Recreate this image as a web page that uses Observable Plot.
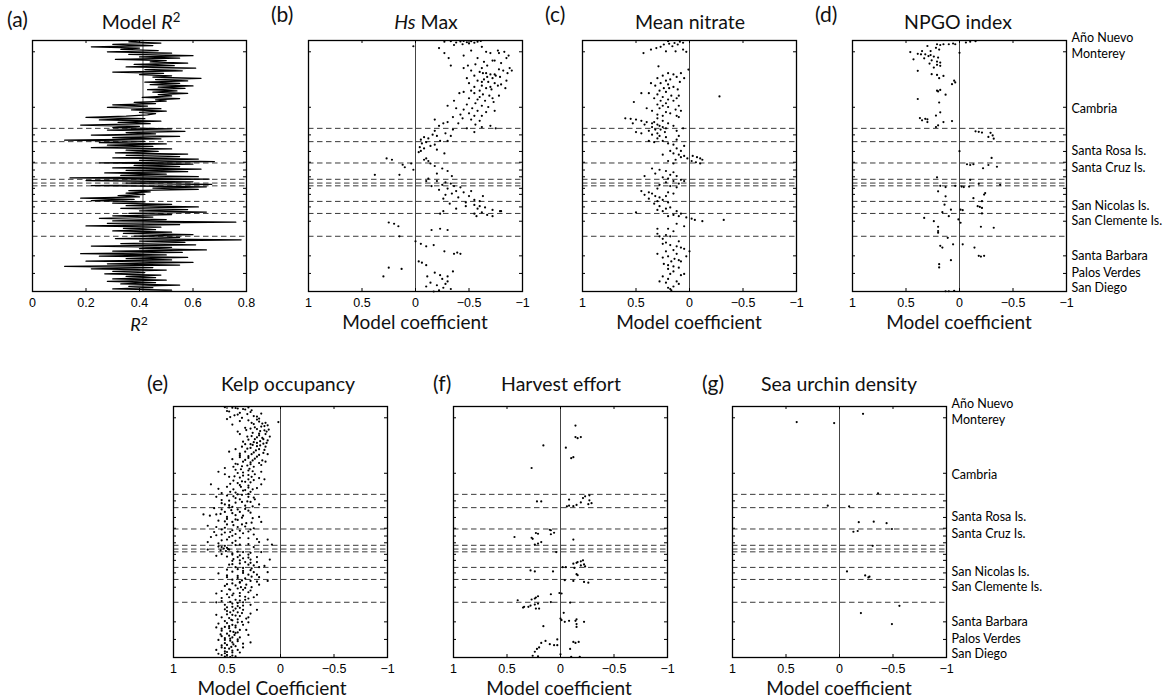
<!DOCTYPE html>
<html>
<head>
<meta charset="utf-8">
<script src="https://cdn.jsdelivr.net/npm/d3@7"></script>
<script src="https://cdn.jsdelivr.net/npm/@observablehq/plot@0.6"></script>
<style>
  body { margin: 0; background: #fff; }
  #fig { position: relative; width: 1171px; height: 700px; overflow: hidden; background: #fff; }
  #fig > svg { position: absolute; overflow: visible; }
  .lbl { font-family: Lato, "Open Sans", sans-serif; fill: #111; }
</style>
</head>
<body>
<div id="fig"></div>
<script>
// Sites ordered along the coast, north (0) to south (100)
const siteNames = ["Año Nuevo", "Monterey", "Cambria", "Santa Rosa Is.", "Santa Cruz Is.",
  "San Nicolas Is.", "San Clemente Is.", "Santa Barbara", "Palos Verdes", "San Diego"];
const sitePos = [-1, 5.3, 27.2, 44.1, 50.7, 66, 72, 85.8, 92.8, 98.7];
const siteTicks = [4.5, 26.6, 37.6, 44.2, 48.5, 51.6, 54.3, 58.9, 61.3, 66.3, 72, 85.8, 92.8];
// Region boundaries (dashed)
const dividers = [35, 40.3, 48.8, 55.3, 56.8, 57.9, 64.1, 68.9, 78.0];

const coefTicks = [1, 0.5, 0, -0.5, -1];
const r2Ticks = [0, 0.2, 0.4, 0.6, 0.8];
const meanR2 = 0.413;

// Model R² at each site, north to south
const r2BySite = [
  0.41, 0.36, 0.48, 0.30, 0.45, 0.22, 0.40, 0.33, 0.47, 0.28,
  0.52, 0.36, 0.60, 0.40, 0.55, 0.31, 0.50, 0.44, 0.58, 0.38,
  0.53, 0.35, 0.61, 0.42, 0.56, 0.30, 0.49, 0.40, 0.52, 0.45,
  0.63, 0.46, 0.58, 0.42, 0.55, 0.44, 0.60, 0.47, 0.57, 0.43,
  0.54, 0.45, 0.58, 0.47, 0.52, 0.41, 0.55, 0.46, 0.50, 0.38,
  0.46, 0.30, 0.43, 0.28, 0.48, 0.37, 0.50, 0.40, 0.46, 0.43,
  0.35, 0.20, 0.42, 0.25, 0.48, 0.32, 0.44, 0.18, 0.40, 0.30,
  0.52, 0.28, 0.57, 0.35, 0.46, 0.22, 0.55, 0.30, 0.48, 0.12,
  0.42, 0.25, 0.50, 0.28, 0.45, 0.22, 0.52, 0.35, 0.47, 0.31,
  0.58, 0.35, 0.55, 0.30, 0.62, 0.40, 0.68, 0.25, 0.60, 0.38,
  0.55, 0.30, 0.63, 0.35, 0.58, 0.27, 0.50, 0.33, 0.62, 0.14,
  0.66, 0.20, 0.60, 0.35, 0.67, 0.22, 0.65, 0.45, 0.62, 0.36,
  0.44, 0.35, 0.42, 0.32, 0.40, 0.18, 0.38, 0.22, 0.42, 0.30,
  0.52, 0.35, 0.62, 0.33, 0.58, 0.40, 0.65, 0.36, 0.52, 0.30,
  0.45, 0.25, 0.50, 0.30, 0.76, 0.28, 0.55, 0.20, 0.48, 0.34,
  0.46, 0.30, 0.52, 0.34, 0.60, 0.38, 0.55, 0.31, 0.78, 0.40,
  0.57, 0.33, 0.61, 0.22, 0.52, 0.40, 0.65, 0.30, 0.56, 0.18,
  0.50, 0.25, 0.58, 0.35, 0.52, 0.20, 0.60, 0.28, 0.55, 0.12,
  0.45, 0.22, 0.50, 0.30, 0.42, 0.27, 0.48, 0.35, 0.46, 0.30,
  0.50, 0.28, 0.46, 0.33, 0.55, 0.36, 0.45, 0.30, 0.52, 0.40
];

// Significant site coefficients: [site position, coefficient]
const hsMax = [
  [0.5,-0.27],[0.3,-0.33],[0.8,-0.38],[0.4,-0.42],[0.2,-0.45],[0.7,-0.48],[0.3,-0.52],[0.9,-0.55],[0.5,-0.58],[0.2,-0.61],[1.5,-0.44],[1.2,-0.5],[1.8,-0.36],[2.3,0.02],
  [3,-0.22],[5,-0.27],[7,-0.31],[10,-0.33],[4,-0.52],[6,-0.45],[2.5,-0.62],[4.5,-0.66],[5,-0.7],[4,-0.77],[5,-0.78],[4.5,-0.83],[6,-0.87],[7,-0.85],[8,-0.74],[9,-0.8],[8.5,-0.64],[10,-0.67],[9.5,-0.56],[10,-0.49],[11,-0.88],[12,-0.9],[13,-0.86],[7,-0.58],[8,-0.72],
  [11,-0.45],[12,-0.52],[12.5,-0.6],[13,-0.66],[13.5,-0.7],[14,-0.75],[14.5,-0.79],[15,-0.72],[15.5,-0.64],[16,-0.58],[16.5,-0.68],[17,-0.74],[17.5,-0.8],[18,-0.62],[18.5,-0.55],[19,-0.66],[19.5,-0.71],[20,-0.6],[11.5,-0.78],[12,-0.82],[13,-0.63],[14,-0.55],[15,-0.48],[16,-0.85],[17,-0.5],[18,-0.77],[19,-0.84],[20,-0.52],[14.5,-0.67],[16.5,-0.62],[18.5,-0.7],[11,-0.62],[13.5,-0.74],
  [20.5,-0.45],[21,-0.55],[21.5,-0.63],[22,-0.69],[22.5,-0.6],[23,-0.5],[23.5,-0.58],[24,-0.65],[24.5,-0.73],[25,-0.56],[25.5,-0.48],[26,-0.62],[26.5,-0.68],[27,-0.53],[27.5,-0.45],[28,-0.58],[28.5,-0.66],[29,-0.5],[29.5,-0.42],[30,-0.55],[22,-0.78],[24,-0.36],[26,-0.3],[28,-0.74],[30,-0.62],[21,-0.41],[23,-0.72],[27,-0.38],
  [30.5,-0.35],[31,-0.44],[31.5,-0.52],[32,-0.6],[32.5,-0.3],[33,-0.4],[33.5,-0.56],[34,-0.22],[34.5,-0.62],[35,-0.48],[35.5,-0.35],[36,-0.18],[36.5,-0.55],[34,-0.7],[35,-0.75],[33,-0.26],[31.5,-0.18],
  [37,-0.28],[37.5,-0.16],[38,-0.2],[38.5,-0.08],[39,-0.12],[39.5,-0.05],[40,-0.23],[40.5,-0.1],[41,-0.06],[41.5,-0.18],[42,-0.14],[42.5,-0.04],[43,-0.08],[43.5,-0.2],[44,-0.05],[45,-0.27],[44.5,-0.03],[38,-0.33],[40,-0.3],
  [47,0.27],[47.5,0.22],[49.5,0.12],[50.5,0.1],[49,0.04],[53.5,0.38],[53.5,0.15],[51.5,0.02],
  [47,-0.1],[48,-0.12],[49,-0.14],[47.5,-0.08],[50,-0.18],[51,-0.25],[52,-0.3],[53,-0.2],[54,-0.34],
  [55,-0.12],[56,-0.2],[56.5,-0.28],[57,-0.33],[57.5,-0.25],[58,-0.36],[58.5,-0.42],[59,-0.3],[59.5,-0.22],[60,-0.38],[60.5,-0.45],[61,-0.34],[61.5,-0.28],[62,-0.5],[62.5,-0.4],[63,-0.26],[63.5,-0.55],[64,-0.6],[64.5,-0.47],[65,-0.32],[56,-0.1],[58,-0.15],[60,-0.52],[62,-0.63],
  [65.5,-0.55],[66,-0.6],[66.5,-0.65],[67,-0.58],[67.5,-0.72],[68,-0.8],[68.5,-0.62],[69,-0.55],[69.5,-0.67],[70,-0.57],[66,-0.47],[67,-0.38],[68,-0.26],[69,-0.23],[70,-0.72],[68,-0.79],
  [72.5,0.25],[73,0.2],[74,0.16],[78,0.15],[75.5,-0.15],[75,-0.23],[75.5,-0.3],
  [80,0.0],[81,-0.05],[82,-0.1],[81.5,-0.17],[84,-0.27],[85,-0.36],[85,-0.42],[84.5,-0.39],
  [90.5,0.25],[94,0.3],[91,0.13],[88,-0.03],[88.5,-0.06],[89.5,-0.1],[94,-0.11],[92.5,-0.18],[93.5,-0.23],[94,-0.3],[96.5,-0.14],[97.5,-0.2],[98.5,-0.26],[99,-0.33],[95,-0.25],[96,-0.3],[98,-0.1],[100,-0.17],[99.5,-0.22],[97,-0.28],[92,-0.35]
];

const meanNitrate = [
  [0.5,0.09],[1,0.14],[1.3,0.19],[1.6,0.24],[2.3,0.16],[3,0.31],[3.6,0.36],[4.3,0.22],[5,0.43],[4.3,0.13],[3.6,0.06],[4.5,0.03],[1.6,0.11],[0.9,0.06],[0.3,0.2],[2.5,0.27],
  [11.6,0.01],[10.3,0.29],
  [13,0.2],[13.5,0.15],[14,0.25],[14.5,0.12],[15,0.3],[15.5,0.18],[16,0.22],[16.5,0.09],[17,0.27],[17.5,0.2],[18,0.32],[18.5,0.15],[19,0.24],[19.5,0.11],[20,0.28],[13,0.08],[15,0.05],[17,0.36],[19,0.19],
  [20.5,0.22],[21,0.38],[21.5,0.3],[22,0.17],[22.5,0.25],[23,0.12],[23.5,0.2],[24,0.27],[24.5,0.52],[21,0.45],[22,0.1],[23,0.33],[25,0.22],[24,0.15],[22.3,-0.28],
  [25.5,0.3],[26,0.25],[26.5,0.2],[27,0.28],[27.5,0.13],[28,0.35],[28.5,0.22],[29,0.18],[29.5,0.3],[30,0.12],[26,0.1],[28,0.08],[30,0.25],[27,0.4],
  [31,0.6],[31.2,0.55],[31.5,0.5],[32,0.45],[32.5,0.4],[33,0.35],[33.5,0.3],[34,0.28],[34.5,0.25],[35,0.22],[35.5,0.32],[36,0.38],[36.5,0.5],[37,0.3],[31,0.3],[32,0.25],[33,0.2],[34,0.15],[35,0.06],[36,0.12],[32.5,0.33],[33.5,0.42],[34.5,0.35],[35.5,0.27],[30.5,0.1],[36.5,0.23],[37,0.45],[33,0.53],
  [37.5,0.35],[38,0.28],[38.5,0.22],[39,0.3],[39.5,0.12],[40,0.25],[40.5,0.33],[41,0.2],[41.5,0.15],[42,0.05],[38,0.1],[40,0.38],
  [43,0.12],[44,0.18],[45,0.15],[45.5,0.1],[46,0.05],[46.5,0.08],[47,0.02],[47.5,0.13],[48,0.2],[49,0.15],[46,-0.03],[46.5,-0.07],[47,-0.1],[47.5,-0.12],[48,-0.02],[48.5,-0.06],[49,-0.1],[45.5,0.25],[44,0.08],
  [51,0.35],[51.5,0.28],[52,0.22],[52.5,0.15],[53,0.32],[53.5,0.18],[54,0.12],[54.5,0.25],[55,0.2],[55.5,0.08],[56,0.15],[56.5,0.22],[57,0.1],[57.5,0.28],[58,0.18],[54,0.42],[56,0.05],
  [58.5,0.12],[59,0.3],[60.5,0.38],[61,0.35],[61.5,0.42],[62,0.32],[62.5,0.28],[63,0.38],[63.5,0.25],[64,0.3],[64.5,0.2],[65,0.33],[61,0.15],[60,0.45],[62,0.22],[60.5,0.2],
  [66,0.28],[66.5,0.18],[67,0.22],[67.5,0.3],[68,0.12],[68.5,0.5],[69,0.08],[69.5,0.15],[70,0.2],[70.5,0.03],[71,-0.02],[71.5,-0.05],[72,-0.12],[71.5,-0.32],[70,0.1],[68,0.25],
  [73,0.12],[74,0.05],[75,0.2],[76,0.15],[77,0.3],[77.5,0.22],[78,0.18],[79,0.25],[80,0.1],[75,0.3],[78,0.28],
  [80.5,0.22],[81,0.25],[81.5,0.18],[82,0.12],[82.5,0.08],[83,0.05],[83.5,0.15],[84,0.22],[85,0.3],[86,0.2],[86.5,0.25],[87,0.14],[87.5,0.1],[88,0.17],[89,0.24],[89.5,0.2],[90,0.15],[84,0.0],[86,0.03],[88,0.08],[85,0.12],
  [90.5,0.1],[91,0.2],[92,0.15],[93,0.18],[93.5,0.08],[94,0.25],[95,0.2],[96,0.28],[96.5,0.22],[97,0.1],[98,0.15],[98.5,0.2],[99,0.18],[99.5,0.17],[93,0.05],[96,0.12]
];

const npgoIndex = [
  [1.5,0.15],[1.5,0.1],[1.2,0.06],[1.5,0.04],[1.8,0.18],[1.5,0.21],[0.8,-0.06],[0.5,-0.1],[0.3,-0.15],
  [2.2,0.3],[2.9,0.22],[3.6,0.19],[4.2,0.35],[4.6,0.46],[5.3,0.39],[5.5,0.32],[5.8,0.27],[6.2,0.29],[6.4,0.24],[6.8,0.2],[7.1,0.33],[7.5,0.43],[7.9,0.26],[8.4,0.21],[8.8,0.18],[9.2,0.28],[9.7,0.21],[10.1,0.18],[10.8,0.24],[4.9,0.0],[12.1,0.39],[5.5,0.36],[4.2,0.27],
  [13.4,0.26],[13.7,0.21],[14.1,0.15],[15,0.19],[16,0.05],[16.7,0.04],[17.4,0.07],[19.7,0.18],[20,0.21],[20.3,0.2],[21.6,0.13],[23.3,0.39],[24.7,0.19],
  [28.6,0.18],[29.9,0.22],[30.9,0.37],[31.2,0.32],[31.4,0.3],[31.8,0.35],[32.5,0.3],[32.5,0.15],[32.1,0.07],[33.8,0.2],[34.5,0.22],
  [36.2,-0.15],[36.4,-0.18],[36.7,-0.21],[36.8,-0.29],[37.8,-0.31],[38.4,-0.27],[39.1,-0.32],
  [44.1,0.0],[46.8,-0.3],[49.3,-0.07],[49.6,-0.1],[49.3,-0.13],[49.6,-0.27],[50.3,-0.35],[50.9,-0.22],
  [54.5,0.21],[55.5,-0.1],[57.1,-0.18],[57.5,-0.38],[57.9,0.04],[58.2,-0.02],[58.4,-0.04],[58.2,-0.09],[58.4,0.13],[57.9,0.18],[60.1,0.2],[60.8,-0.24],[61.4,-0.23],[62.1,0.13],[62.8,-0.13],
  [64,-0.21],[65.4,0.14],[66,-0.17],[66.3,-0.19],[66.7,-0.21],[67.4,-0.01],[67.6,-0.03],[67.4,0.08],[68.4,0.16],[68.9,-0.21],[70,0.1],[70.7,0.33],[71.3,0.01],[72,0.24],[72.6,-0.01],
  [74.2,-0.2],[74.6,-0.32],[74.2,0.2],[75.9,0.2],[76.6,0.2],
  [78.6,0.11],[81.2,0.06],[81.2,-0.03],[81.8,0.18],[82.5,0.16],[82.5,-0.14],[85.8,-0.18],[86.1,-0.2],[85.8,-0.23],[87.5,0.08],[89.1,0.19],[90.4,0.19],[99.9,0.13],[99.9,0.1],[99.7,0.05]
];

const kelpOccupancy = [
  [0.3,0.52],[0.5,0.45],[0.8,0.4],[1,0.35],[0.4,0.3],[1.5,0.27],[2,0.48],[2.5,0.38],[3,0.31],[3.5,0.43],[4,0.22],[4.5,0.36],[5,0.5],[2.8,0.18],[6.2,0.02],
  [0.6,0.42],[1.2,0.33],[1.8,0.5],[2.2,0.28],[3.2,0.4],[3.8,0.25],[4.2,0.47],[4.8,0.2],
  [5.5,0.3],[6,0.2],[6.5,0.14],[7,0.25],[7.5,0.12],[8,0.18],[8.5,0.33],[9,0.22],[9.5,0.15],[10,0.4],[7.2,0.45],[8.8,0.28],[6.8,0.17],[9.2,0.11],
  [5.2,0.22],[5.8,0.38],[6.5,0.27],[7.8,0.15],[8.3,0.24],[9.4,0.32],[9.8,0.19],[10,0.13],
  [10.5,0.26],[11,0.14],[11.5,0.2],[12,0.31],[12.5,0.17],[13,0.24],[13.5,0.12],[14,0.35],[14.5,0.22],[15,0.28],[11,0.38],[13,0.16],[12,0.1],[14.5,0.13],
  [10.8,0.2],[11.8,0.27],[12.3,0.22],[13.2,0.3],[13.8,0.19],[14.2,0.25],[14.8,0.16],[15,0.33],
  [15.5,0.19],[16,0.36],[16.5,0.28],[17,0.42],[17.5,0.23],[18,0.33],[18.5,0.16],[19,0.27],[19.5,0.38],[20,0.22],[16,0.14],[18,0.48],[17,0.2],[19,0.12],
  [15.3,0.26],[15.8,0.22],[16.8,0.31],[17.3,0.15],[18.3,0.25],[18.8,0.38],[19.3,0.2],[19.8,0.3],
  [20.5,0.3],[21,0.45],[21.5,0.26],[22,0.35],[22.5,0.2],[23,0.4],[23.5,0.31],[24,0.25],[24.5,0.52],[25,0.37],[21.5,0.17],[23,0.28],[22,0.14],[24,0.44],
  [20.2,0.38],[20.8,0.24],[21.3,0.33],[22.3,0.28],[22.8,0.42],[23.3,0.18],[23.8,0.36],[24.8,0.29],
  [25.5,0.3],[26,0.58],[26.5,0.4],[27,0.24],[27.5,0.35],[28,0.48],[28.5,0.2],[29,0.3],[29.5,0.44],[30,0.33],[26,0.18],[28,0.27],[27,0.52],[29,0.15],
  [25.2,0.42],[25.8,0.26],[26.3,0.35],[27.3,0.3],[27.8,0.43],[28.3,0.38],[29.3,0.25],[29.8,0.36],
  [30.5,0.4],[31,0.65],[31.5,0.3],[32,0.5],[32.5,0.22],[33,0.44],[33.5,0.35],[34,0.28],[34.5,0.55],[35,0.4],[31,0.18],[33,0.26],[32,0.37],[34,0.47],
  [30.2,0.28],[30.8,0.47],[31.3,0.38],[32.3,0.3],[32.8,0.58],[33.3,0.33],[34.3,0.42],[34.8,0.3],
  [35.5,0.5],[36,0.3],[36.5,0.42],[37,0.24],[37.5,0.48],[38,0.36],[38.5,0.55],[39,0.2],[39.5,0.33],[40,0.45],[36,0.6],[38,0.28],[37,0.38],[39,0.52],
  [35.2,0.36],[35.8,0.44],[36.3,0.25],[37.3,0.55],[37.8,0.31],[38.3,0.42],[39.3,0.48],[39.8,0.26],
  [40.5,0.62],[41,0.4],[41.5,0.3],[42,0.52],[42.5,0.45],[43,0.72],[43.5,0.35],[44,0.5],[44.5,0.26],[45,0.42],[41,0.55],[43,0.6],[42,0.38],[44,0.2],[43.5,0.66],
  [40.2,0.48],[40.8,0.33],[41.3,0.46],[42.3,0.28],[42.8,0.56],[43.3,0.42],[44.3,0.36],[44.8,0.5],
  [45.5,0.58],[46,0.45],[46.5,0.32],[47,0.5],[47.5,0.68],[48,0.4],[48.5,0.25],[49,0.55],[49.5,0.38],[50,0.47],[46,0.18],[48,0.6],[47,0.36],[49,0.28],[50,0.62],
  [45.2,0.4],[45.8,0.52],[46.3,0.27],[47.3,0.44],[47.8,0.33],[48.3,0.52],[49.3,0.45],[49.8,0.3],
  [50.5,0.35],[51,0.55],[51.5,0.45],[52,0.65],[52.5,0.3],[53,0.5],[53.5,0.42],[54,0.2],[54.5,0.58],[55,0.38],[51,0.25],[53,0.12],[52,0.48],[54,0.68],[55,0.08],
  [50.2,0.52],[50.8,0.42],[51.3,0.6],[52.3,0.38],[52.8,0.22],[53.3,0.55],[54.3,0.45],[54.8,0.3],
  [55.5,0.52],[56,0.55],[56.3,0.5],[56.6,0.53],[57,0.48],[57.3,0.56],[57.6,0.51],[58,0.35],[58.5,0.45],[59,0.3],[59.5,0.6],[60,0.4],[56,0.25],[58,0.18],[59,0.45],[57,0.68],[60,0.22],
  [55.2,0.42],[55.8,0.58],[56.8,0.49],[57.8,0.4],[58.3,0.28],[58.8,0.55],[59.3,0.38],[59.8,0.5],
  [60.5,0.35],[61,0.28],[61.5,0.45],[62,0.22],[62.5,0.38],[63,0.3],[63.5,0.15],[64,0.42],[64.5,0.27],[65,0.5],[61,0.1],[63,0.48],[62,0.33],[64,0.2],
  [60.2,0.3],[60.8,0.44],[61.3,0.38],[62.3,0.28],[62.8,0.45],[63.3,0.25],[64.3,0.35],[64.8,0.4],
  [65.5,0.35],[66,0.25],[66.5,0.58],[67,0.3],[67.5,0.4],[68,0.2],[68.5,0.33],[69,0.45],[69.5,0.28],[70,0.38],[66,0.12],[68,0.5],[67,0.22],[69.5,0.12],
  [65.2,0.28],[65.8,0.45],[66.3,0.35],[67.3,0.5],[67.8,0.27],[68.3,0.4],[69.3,0.36],[69.8,0.22],
  [70.5,0.45],[71,0.32],[71.5,0.52],[72,0.27],[72.5,0.4],[73,0.35],[73.5,0.55],[74,0.3],[74.5,0.44],[75,0.22],[71,0.2],[73,0.47],[72,0.37],[74.5,0.6],
  [70.2,0.38],[70.8,0.5],[71.3,0.42],[72.3,0.33],[72.8,0.48],[73.3,0.28],[74.3,0.38],[74.8,0.5],
  [75.5,0.38],[76,0.48],[76.5,0.3],[77,0.42],[77.5,0.55],[78,0.35],[78.5,0.45],[79,0.28],[79.5,0.4],[80,0.5],[76,0.25],[78,0.6],[77,0.33],[79,0.52],
  [75.2,0.45],[75.8,0.33],[76.3,0.55],[77.3,0.38],[77.8,0.47],[78.3,0.4],[79.3,0.35],[79.8,0.45],
  [80.5,0.42],[81,0.35],[81.5,0.5],[82,0.4],[82.5,0.28],[83,0.45],[83.5,0.38],[84,0.55],[84.5,0.32],[85,0.46],[81,0.22],[83,0.6],[82,0.47],[84,0.3],
  [80.2,0.38],[80.8,0.52],[81.3,0.44],[82.3,0.36],[82.8,0.5],[83.3,0.42],[84.3,0.48],[84.8,0.4],
  [85.5,0.52],[86,0.4],[86.5,0.58],[87,0.35],[87.5,0.48],[88,0.42],[88.5,0.55],[89,0.38],[89.5,0.47],[90,0.4],[86,0.3],[88,0.6],[87,0.45],[89,0.32],
  [85.2,0.45],[85.8,0.36],[86.3,0.5],[87.3,0.42],[87.8,0.52],[88.3,0.48],[89.3,0.55],[89.8,0.44],
  [90.5,0.5],[91,0.43],[91.5,0.55],[92,0.38],[92.5,0.47],[93,0.52],[93.5,0.4],[94,0.45],[94.5,0.35],[95,0.5],[91,0.3],[93,0.58],[92,0.45],[94,0.28],
  [90.2,0.42],[90.8,0.56],[91.3,0.48],[92.3,0.52],[92.8,0.4],[93.3,0.47],[94.3,0.52],[94.8,0.44],
  [95.5,0.42],[96,0.55],[96.5,0.48],[97,0.4],[97.5,0.52],[98,0.45],[98.5,0.58],[99,0.5],[99.5,0.42],[99.8,0.47],[96,0.35],[98,0.38],[97,0.6],[99,0.55],
  [95.2,0.55],[95.8,0.46],[96.3,0.52],[97.3,0.45],[97.8,0.5],[98.3,0.52],[99.2,0.45],[99.6,0.52]
];

const harvestEffort = [
  [7.6,-0.14],[12.2,-0.14],[12.6,-0.16],[12.2,-0.19],[15.5,0.16],[16.4,-0.05],[20.2,-0.12],[20.6,-0.1],[24.5,0.27],
  [35.4,-0.27],[35.8,-0.23],[36.5,-0.21],[37.1,-0.08],[37.4,-0.27],[37.8,0.22],[37.8,0.18],[38.2,-0.19],[38.5,-0.29],[38.9,-0.26],[39.2,-0.15],[39.5,-0.08],[39.8,-0.06],[39.7,-0.12],
  [49.1,0.1],[49.3,0.09],[50.3,0.06],[50.7,0.21],[50.4,0.23],[50.9,0.09],[52,0.43],[52.3,0.27],[52.7,0.26],[53,-0.12],[54,0.18],[54.6,0.21],[55,0.24],[58,0.04],
  [61.3,-0.21],[61.7,-0.19],[62,-0.16],[62.3,-0.15],[62.6,-0.12],[62.9,-0.22],[63.3,-0.19],[63.7,-0.23],[64,-0.05],[64,-0.02],[64.3,-0.13],[65.3,0.28],[65.7,0.24],[65.7,0.07],[66.8,-0.15],[67.2,-0.16],[69.2,-0.04],[69.5,-0.12],[69.9,-0.22],[70.2,-0.26],
  [74.3,0.01],[74.5,-0.01],[74.8,0.09],[75.6,0.21],[76.1,0.23],[76.5,0.24],[76.9,0.27],[77.2,0.4],[77.9,0.09],[78.1,-0.09],[78.5,0.21],[78.9,0.24],[79.3,0.28],[79.8,0.3],[79.8,0.34],[80.1,0.35],[80.5,0.23],[80.5,0.2],
  [82.2,-0.03],[84.5,0],[85.1,-0.01],[85.4,-0.08],[85.8,-0.04],[84.8,-0.15],[85.4,-0.14],[85.8,-0.22],[86.7,-0.15],[87.8,-0.15],[87.5,0.16],
  [92.8,0.03],[93.4,0.14],[94.2,0.18],[94.7,0.1],[95.1,0.06],[95.1,0.03],[93.8,-0.12],[94.2,-0.14],[93.8,-0.17],[96,0.2],[96.6,0.22],[96.6,-0.09],[97.7,0.24],[98.7,0],[99.3,0.26],[99.5,0.21],[99.7,-0.1],[99.7,-0.18]
];

const urchinDensity = [
  [2.9,-0.22],[6.2,0.4],[6.6,0.05],[34.6,-0.36],[39.5,0.11],[39.8,-0.09],[46.1,-0.18],[45.9,-0.32],[46.5,-0.44],[48.8,-0.49],
  [49.6,-0.17],[49.9,-0.13],[55.5,-0.31],[65.7,-0.07],[67.3,-0.24],[67.8,-0.28],[68.1,-0.27],[79.4,-0.56],[82.3,-0.2],[86.7,-0.49]
];

// ---------- layout ----------
const fig = document.getElementById("fig");
const FW = 214, FH = 251;            // inner frame size of each panel
const M = {top: 12, left: 12, right: 12, bottom: 32};
const coefFormat = d3.format("~g");
const r2Format = d => d === 0 ? "0" : d.toFixed(1);

function panel({left, top, xDomain, xTicks, xFormat, marks, sites}) {
  const mr = sites ? 130 : M.right;
  const chart = Plot.plot({
    width: FW + M.left + mr,
    height: FH + M.top + M.bottom,
    marginLeft: M.left, marginRight: mr, marginTop: M.top, marginBottom: M.bottom,
    style: {fontFamily: "'Liberation Sans', Arial, sans-serif", fontSize: "12.5px", color: "#000", background: "transparent", overflow: "visible"},
    x: {domain: xDomain, axis: null},
    y: {domain: [0, 100], reverse: true, axis: null},
    marks: [
      Plot.ruleY(dividers, {stroke: "#3a3a3a", strokeDasharray: "5.5,3.5", strokeWidth: 1}),
      ...marks,
      Plot.ruleY(siteTicks, {insetRight: FW - 3, stroke: "#000"}),
      Plot.ruleY(siteTicks, {insetLeft: FW - 3, stroke: "#000"}),
      Plot.ruleX(xTicks, {insetBottom: FH - 3, stroke: "#000"}),
      Plot.ruleX(xTicks, {insetTop: FH - 3, stroke: "#000"}),
      Plot.frame({stroke: "#000", strokeWidth: 1.3}),
      Plot.axisX({anchor: "bottom", ticks: xTicks, tickSize: 0, tickPadding: 7, tickFormat: xFormat, label: null}),
      sites ? Plot.axisY({anchor: "right", ticks: sitePos, tickSize: 0, tickPadding: 5, label: null,
        tickFormat: d => siteNames[sitePos.indexOf(d)],
        fontFamily: "Lato, 'Open Sans', sans-serif", fontSize: 12.5}) : null
    ]
  });
  chart.style.left = (left - M.left) + "px";
  chart.style.top = (top - M.top) + "px";
  fig.appendChild(chart);
}

const dots = data => Plot.dot(data, {x: d => d[1], y: d => d[0], r: 1.1, fill: "#000", stroke: null});
const zero = Plot.ruleX([0], {stroke: "#444", strokeWidth: 1});
const coefPanel = (left, top, data, sites) => panel({
  left, top, xDomain: [1, -1], xTicks: coefTicks, xFormat: coefFormat, sites,
  marks: [zero, dots(data)]
});

// (a) model R² along the coast
panel({
  left: 32.3, top: 40, xDomain: [0, 0.8], xTicks: r2Ticks, xFormat: r2Format,
  marks: [
    Plot.ruleX([meanR2], {stroke: "#444"}),
    Plot.line(r2BySite.map((v, i) => ({r2: v, site: i * 100 / (r2BySite.length - 1)})),
      {x: "r2", y: "site", stroke: "#000", strokeWidth: 1.25})
  ]
});
coefPanel(308.3, 40, hsMax, false);
coefPanel(582.3, 40, meanNitrate, false);
coefPanel(852, 40, npgoIndex, true);
coefPanel(172.5, 406, kelpOccupancy, false);
coefPanel(452.5, 406, harvestEffort, false);
coefPanel(732.3, 406, urchinDensity, true);

// ---------- titles and axis labels ----------
const ns = "http://www.w3.org/2000/svg";
const overlay = document.createElementNS(ns, "svg");
overlay.setAttribute("width", 1171);
overlay.setAttribute("height", 700);
overlay.style.left = "0px"; overlay.style.top = "0px";
fig.appendChild(overlay);

function label(parts, x, y, size, anchor = "middle") {
  const t = document.createElementNS(ns, "text");
  t.setAttribute("class", "lbl");
  t.setAttribute("x", x); t.setAttribute("y", y);
  t.setAttribute("font-size", size);
  t.setAttribute("text-anchor", anchor);
  for (const p of [].concat(parts)) {
    const s = document.createElementNS(ns, "tspan");
    if (typeof p === "string") s.textContent = p;
    else {
      s.textContent = p.t;
      if (p.italic) s.setAttribute("font-style", "italic");
      if (p.sup) { s.setAttribute("dy", -0.35 * size); s.setAttribute("font-size", size * 0.68); }
    }
    t.appendChild(s);
  }
  overlay.appendChild(t);
}

label("(a)", 7, 27, 21, "start");
label("(b)", 271, 22, 21, "start");
label("(c)", 545, 22, 21, "start");
label("(d)", 815, 22, 21, "start");
label("(e)", 147, 391, 21, "start");
label("(f)", 433, 391, 21, "start");
label("(g)", 702, 391, 21, "start");

label(["Model ", {t: "R", italic: true}, {t: "2", sup: true}], 141, 29, 19.5);
label([{t: "Hs", italic: true}, " Max"], 426, 29, 19.5);
label("Mean nitrate", 690, 29, 19.5);
label("NPGO index", 958, 29, 19.5);
label("Kelp occupancy", 288, 391, 19.5);
label("Harvest effort", 561, 391, 19.5);
label("Sea urchin density", 839, 391, 19.5);

label([{t: "R", italic: true}, {t: "2", sup: true}], 139, 331, 18);
label("Model coefficient", 415, 329, 19);
label("Model coefficient", 689, 329, 19);
label("Model coefficient", 959, 329, 19);
label("Model Coefficient", 272, 695, 19);
label("Model coefficient", 559, 695, 19);
label("Model coefficient", 839, 695, 19);
</script>
</body>
</html>
